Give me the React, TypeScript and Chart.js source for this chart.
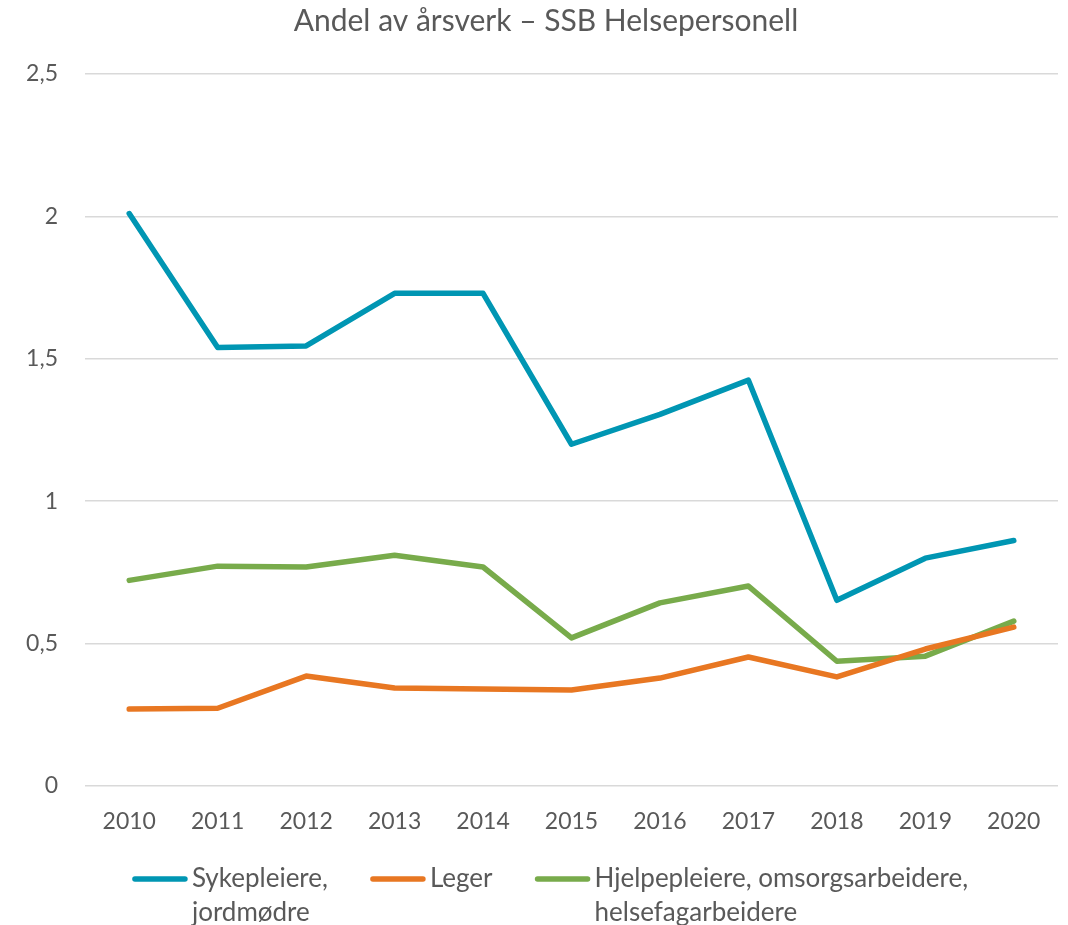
import React, { useEffect, useRef } from "react";
import { Chart, registerables } from "chart.js";

Chart.register(...registerables);

const categories = ["2010", "2011", "2012", "2013", "2014", "2015", "2016", "2017", "2018", "2019", "2020"];
const sykepleiere = [2.01, 1.54, 1.545, 1.73, 1.73, 1.2, 1.305, 1.425, 0.652, 0.8, 0.862];
const leger = [0.27, 0.273, 0.386, 0.344, 0.341, 0.337, 0.379, 0.453, 0.383, 0.481, 0.558];
const hjelpepleiere = [0.722, 0.772, 0.769, 0.81, 0.769, 0.52, 0.643, 0.702, 0.438, 0.456, 0.579];
const legendLines = [
  ["Sykepleiere,", "jordmødre"],
  ["Leger"],
  ["Hjelpepleiere, omsorgsarbeidere,", "helsefagarbeidere"],
];
const titleText = "Andel av årsverk – SSB Helsepersonell";

const FONT = "Lato, 'Noto Sans', sans-serif";
const TEXT = "#595959";
const COLORS = ["#0096B3", "#E87722", "#78AB4B"];

const titleLegendPlugin = {
  id: "customTitleLegend",
  afterDraw(chart: any) {
    const ctx = chart.ctx;
    ctx.save();
    // title
    ctx.font = `30px ${FONT}`;
    ctx.fillStyle = TEXT;
    ctx.textAlign = "center";
    ctx.textBaseline = "middle";
    ctx.fillText(titleText, 546, 21);
    // legend
    ctx.font = `26px ${FONT}`;
    ctx.textAlign = "left";
    const lineW = 56;
    const gapText = 4;
    const gapItem = 42;
    const widths = legendLines.map((ls) => Math.max(...ls.map((l) => ctx.measureText(l).width)));
    const total = widths.reduce((a, w) => a + lineW + gapText + w, 0) + gapItem * (widths.length - 1);
    let x = 550 - total / 2;
    const y0 = 879;
    const lh = 34;
    chart.data.datasets.forEach((ds: any, i: number) => {
      ctx.strokeStyle = ds.borderColor;
      ctx.lineWidth = 5.5;
      ctx.lineCap = "round";
      ctx.beginPath();
      ctx.moveTo(x + 3, y0);
      ctx.lineTo(x + lineW - 3, y0);
      ctx.stroke();
      ctx.fillStyle = TEXT;
      legendLines[i].forEach((l, j) => {
        ctx.fillText(l, x + lineW + gapText, y0 + j * lh);
      });
      x += lineW + gapText + widths[i] + gapItem;
    });
    ctx.restore();
  },
};

export default function App() {
  const ref = useRef<HTMLCanvasElement>(null);
  useEffect(() => {
    document.body.style.margin = "0";
    const chart = new Chart(ref.current!, {
      type: "line",
      data: {
        labels: categories,
        datasets: [
          { label: legendLines[0].join(" "), data: sykepleiere, borderColor: COLORS[0], backgroundColor: COLORS[0] },
          { label: legendLines[1].join(" "), data: leger, borderColor: COLORS[1], backgroundColor: COLORS[1] },
          { label: legendLines[2].join(" "), data: hjelpepleiere, borderColor: COLORS[2], backgroundColor: COLORS[2] },
        ],
      },
      options: {
        responsive: false,
        animation: false,
        elements: {
          line: { borderWidth: 5.5, tension: 0, borderCapStyle: "round", borderJoinStyle: "round" },
          point: { radius: 0, hoverRadius: 0 },
        },
        layout: { padding: { left: 0, right: 10, top: 74, bottom: 0 } },
        plugins: {
          legend: { display: false },
          tooltip: { enabled: false },
          title: { display: false },
        },
        scales: {
          x: {
            offset: true,
            grid: { display: false, drawTicks: false },
            border: { display: false },
            ticks: { color: TEXT, font: { family: FONT, size: 23 }, padding: 22, maxRotation: 0 },
            afterFit: (s: any) => {
              s.height = 139;
            },
          },
          y: {
            min: 0,
            max: 2.5,
            grid: { color: "#D9D9D9", lineWidth: 1.5, drawTicks: false },
            border: { display: false },
            ticks: {
              stepSize: 0.5,
              color: TEXT,
              font: { family: FONT, size: 23 },
              padding: 27,
              callback: (v: any) => String(v).replace(".", ","),
            },
            afterFit: (s: any) => {
              s.width = 85;
            },
          },
        },
      },
      plugins: [titleLegendPlugin],
    } as any);
    return () => chart.destroy();
  }, []);
  return <canvas ref={ref} width={1068} height={925} style={{ display: "block" }} />;
}
